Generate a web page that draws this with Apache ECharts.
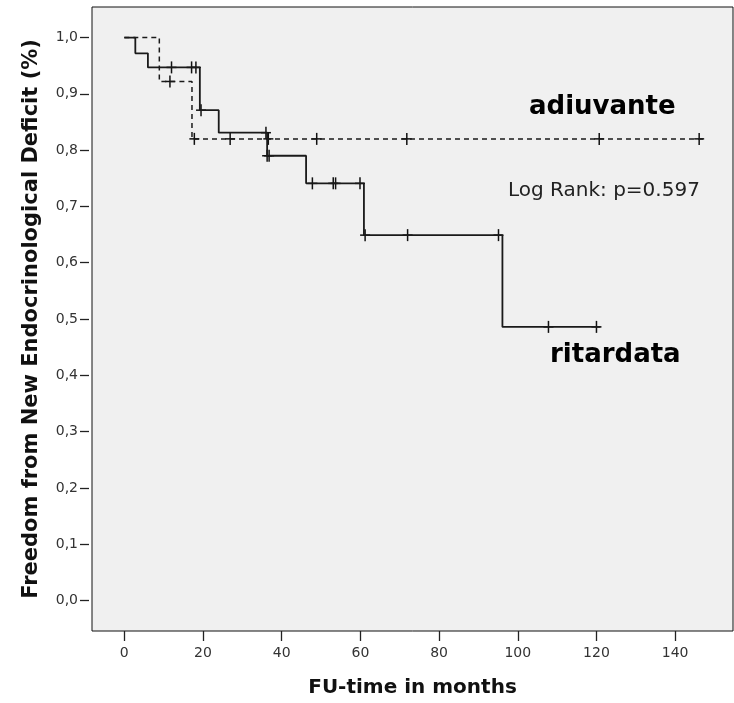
<!DOCTYPE html>
<html>
<head>
<meta charset="utf-8">
<title>Kaplan-Meier</title>
<script src="https://cdn.jsdelivr.net/npm/echarts@6/dist/echarts.min.js"></script>
<style>
    html, body { margin: 0; padding: 0; background: #fff; }
    #main { width: 734px; height: 703px; }
</style>
</head>
<body>
<div id="main"></div>
<script>
// ritardata (linea continua)
var ritTimes = [0, 2.8, 6.0, 19.2, 24.0, 36.3, 46.2, 60.9, 96.1, 121];
var ritSurv = [1.0, 0.972, 0.947, 0.871, 0.831, 0.790, 0.741, 0.649, 0.486, 0.486];
var ritCensTimes = [12.0, 17.1, 18.2, 19.5, 36.0, 36.3, 36.8, 47.8, 53.1, 53.7, 59.9, 61.2, 72.0, 95.1, 107.8, 120.0];
var ritCensSurv = [0.947, 0.947, 0.947, 0.871, 0.831, 0.790, 0.790, 0.741, 0.741, 0.741, 0.741, 0.649, 0.649, 0.649, 0.486, 0.486];

// adiuvante (linea tratteggiata)
var adiTimes = [0, 8.9, 17.2, 147.6];
var adiSurv = [1.0, 0.922, 0.820, 0.820];
var adiCensTimes = [11.6, 17.8, 26.9, 36.6, 48.9, 71.8, 120.7, 146.1];
var adiCensSurv = [0.922, 0.820, 0.820, 0.820, 0.820, 0.820, 0.820, 0.820];

// tacche degli assi
var xTicks = [0, 20, 40, 60, 80, 100, 120, 140];
var yTicks = [0, 0.1, 0.2, 0.3, 0.4, 0.5, 0.6, 0.7, 0.8, 0.9, 1.0];

function zip(a, b) {
    var out = [];
    for (var i = 0; i < a.length; i++) {
        out.push([a[i], b[i]]);
    }
    return out;
}

// crocetta per i casi censurati
function renderCross(params, api) {
    var p = api.coord([api.value(0), api.value(1)]);
    var st = { stroke: '#111', lineWidth: 1.5 };
    return {
        type: 'group',
        children: [
            { type: 'line', shape: { x1: p[0] - 5, y1: p[1], x2: p[0] + 5, y2: p[1] }, style: st },
            { type: 'line', shape: { x1: p[0], y1: p[1] - 6, x2: p[0], y2: p[1] + 6 }, style: st }
        ]
    };
}

var myChart = echarts.init(document.getElementById('main'));
var font = 'DejaVu Sans';
var option = {
    animation: false,
    textStyle: { fontFamily: font },
    grid: {
        left: 92,
        right: 1,
        top: 7,
        bottom: 69,
        show: true,
        backgroundColor: '#f0f0f0',
        borderColor: '#111',
        borderWidth: 1
    },
    xAxis: {
        type: 'value',
        min: -8.21,
        max: 154.7,
        name: 'FU-time in months',
        nameLocation: 'middle',
        nameGap: 47,
        nameTextStyle: { fontFamily: font, fontWeight: 'bold', fontSize: 20, color: '#111' },
        axisLine: { show: false, onZero: false },
        splitLine: { show: false },
        axisTick: { show: true, length: 10, customValues: xTicks, lineStyle: { color: '#222', width: 1.3 } },
        axisLabel: { customValues: xTicks, margin: 15, fontSize: 14, color: '#333', fontFamily: font }
    },
    yAxis: {
        type: 'value',
        min: -0.0543,
        max: 1.0543,
        offset: 3,
        name: 'Freedom from New Endocrinological Deficit (%)',
        nameLocation: 'middle',
        nameGap: 47,
        nameTextStyle: { fontFamily: font, fontWeight: 'bold', fontSize: 21, color: '#111' },
        axisLine: { show: false, onZero: false },
        splitLine: { show: false },
        axisTick: { show: true, length: 9, customValues: yTicks, lineStyle: { color: '#222', width: 1.3 } },
        axisLabel: {
            customValues: yTicks,
            margin: 11,
            fontSize: 14,
            color: '#333',
            fontFamily: font,
            formatter: function (v) { return v.toFixed(1).replace('.', ','); }
        }
    },
    graphic: [
        { type: 'text', left: 529, top: 94, style: { text: 'adiuvante', font: 'bold 26px "DejaVu Sans"', fill: '#000' } },
        { type: 'text', left: 508, top: 181, style: { text: 'Log Rank: p=0.597', font: '20px "DejaVu Sans"', fill: '#222' } },
        { type: 'text', left: 550, top: 342, style: { text: 'ritardata', font: 'bold 26px "DejaVu Sans"', fill: '#000' } }
    ],
    series: [
        {
            name: 'ritardata',
            type: 'line',
            step: 'end',
            symbol: 'none',
            data: zip(ritTimes, ritSurv),
            lineStyle: { color: '#1a1a1a', width: 1.8 }
        },
        {
            name: 'adiuvante',
            type: 'line',
            step: 'end',
            symbol: 'none',
            data: zip(adiTimes, adiSurv),
            lineStyle: { color: '#1a1a1a', width: 1.5, type: [5, 4] }
        },
        {
            type: 'custom',
            renderItem: renderCross,
            data: zip(ritCensTimes, ritCensSurv)
        },
        {
            type: 'custom',
            renderItem: renderCross,
            data: zip(adiCensTimes, adiCensSurv)
        }
    ]
};
myChart.setOption(option);
</script>
</body>
</html>
